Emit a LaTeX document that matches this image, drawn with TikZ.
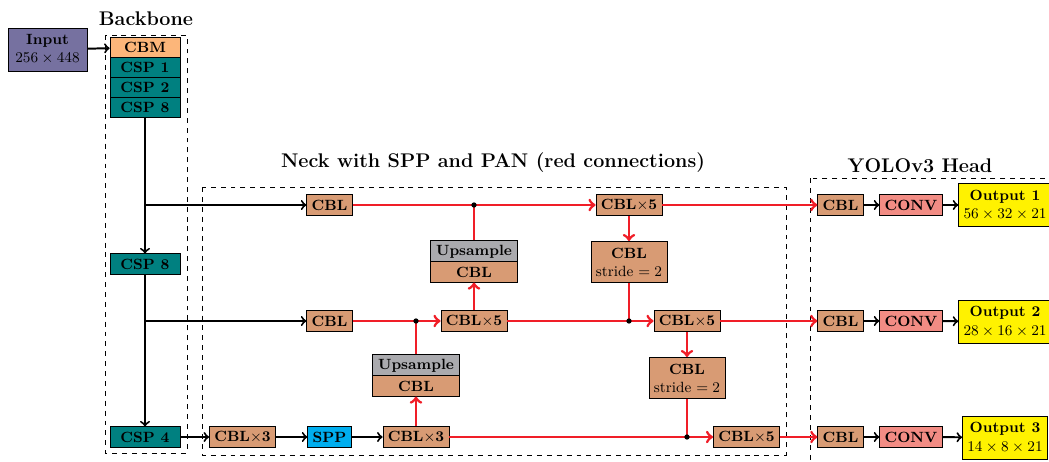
\documentclass[tikz,border=0pt]{standalone}
\usepackage{amsmath}

\definecolor{inputcol}{RGB}{118,113,160}
\definecolor{cbmcol}{RGB}{252,182,122}
\definecolor{cspcol}{RGB}{0,128,128}
\definecolor{cblcol}{RGB}{216,155,116}
\definecolor{upcol}{RGB}{170,170,174}
\definecolor{sppcol}{RGB}{0,174,239}
\definecolor{convcol}{RGB}{242,140,132}
\definecolor{outcol}{RGB}{255,242,0}
\definecolor{pancol}{RGB}{240,30,40}

\tikzset{
  box/.style={draw, minimum height=12pt, inner sep=3pt, font=\small\bfseries},
  cspbox/.style={box, fill=cspcol, minimum width=42.5pt},
  cblbox/.style={box, fill=cblcol},
  upbox/.style={box, minimum width=53pt},
  twoline/.style={box, align=center, minimum height=26pt},
  blk/.style={->, line width=1.2pt},
  redline/.style={line width=1.7pt, pancol},
  redarr/.style={->, line width=1.7pt, pancol},
  title/.style={font=\large\bfseries}
}

\begin{document}
\begin{tikzpicture}[x=0.607pt, y=-0.607pt]

  % Fix the page to the size of the picture
  \useasboundingbox (0,0) rectangle (1049,461);
  \clip (0,0) rectangle (1049,461);

  % Draw the dashed frames and their titles
  \draw[dashed] (105,35) rectangle (187,453);
  \draw[dashed] (202,187) rectangle (786,455);
  \draw[dashed] (810,178) rectangle (1080,490);
  \node[title] (tbb) at (146,19) {Backbone};
  \node[title] (tneck) at (493,163) {Neck with SPP and PAN (red connections)};
  \node[title] (thead) at (920,166) {YOLOv3 Head};

  % Input and backbone
  \node[twoline, fill=inputcol, minimum width=48pt] (input) at (47.5,49.5) {Input\\ \mdseries $256\times448$};
  \node[cspbox, fill=cbmcol] (cbm) at (145,47.5) {CBM};
  \node[cspbox] (csp1) at (145,67.5) {CSP 1};
  \node[cspbox] (csp2) at (145,87.5) {CSP 2};
  \node[cspbox] (csp8a) at (145,107.5) {CSP 8};
  \node[cspbox] (csp8b) at (145,264) {CSP 8};
  \node[cspbox] (csp4) at (145,437) {CSP 4};

  % Neck nodes
  \node[cblbox] (cbl1) at (329.5,205) {CBL};
  \node[cblbox] (cbl2) at (329.5,321) {CBL};
  \node[cblbox] (cblx3a) at (242.5,437) {CBL$\times$3};
  \node[box, fill=sppcol] (spp) at (329.5,437) {SPP};
  \node[cblbox] (cblx3b) at (416,437) {CBL$\times$3};
  \node[upbox, fill=upcol] (up2) at (416,366) {Upsample};
  \node[upbox, fill=cblcol] (upcbl2) at (416,386) {CBL};
  \node[cblbox] (cblx5a) at (474,321) {CBL$\times$5};
  \node[upbox, fill=upcol] (up1) at (474,252) {Upsample};
  \node[upbox, fill=cblcol] (upcbl1) at (474,272) {CBL};
  \node[cblbox] (cblx5b) at (629,205) {CBL$\times$5};
  \node[cblbox, align=center, minimum height=25pt] (stride1) at (629,262) {CBL\\ \mdseries stride $=2$};
  \node[cblbox] (cblx5c) at (687,321) {CBL$\times$5};
  \node[cblbox, align=center, minimum height=25pt] (stride2) at (687,378) {CBL\\ \mdseries stride $=2$};
  \node[cblbox] (cblx5d) at (746.5,437) {CBL$\times$5};

  % Head nodes
  \node[cblbox] (hcbl1) at (840.5,205) {CBL};
  \node[cblbox] (hcbl2) at (840.5,321) {CBL};
  \node[cblbox] (hcbl3) at (840.5,437) {CBL};
  \node[box, fill=convcol] (conv1) at (911,205) {CONV};
  \node[box, fill=convcol] (conv2) at (911,321) {CONV};
  \node[box, fill=convcol] (conv3) at (911,437) {CONV};
  \node[twoline, fill=outcol] (out1) at (1005,205) {Output 1\\ \mdseries $56\times32\times21$};
  \node[twoline, fill=outcol] (out2) at (1005,321.5) {Output 2\\ \mdseries $28\times16\times21$};
  \node[twoline, fill=outcol] (out3) at (1005,437.5) {Output 3\\ \mdseries $14\times8\times21$};

  % Black connections
  \draw[blk] (input) -- (cbm);
  \draw[blk] (csp8a) -- (csp8b);
  \draw[blk] (csp8b) -- (csp4);
  \draw[blk] (csp8a |- cbl1) -- (cbl1);
  \draw[blk] (csp8b |- cbl2) -- (cbl2);
  \draw[blk] (csp4) -- (cblx3a);
  \draw[blk] (cblx3a) -- (spp);
  \draw[blk] (spp) -- (cblx3b);
  \draw[blk] (hcbl1) -- (conv1);
  \draw[blk] (hcbl2) -- (conv2);
  \draw[blk] (hcbl3) -- (conv3);
  \draw[blk] (conv1) -- (out1);
  \draw[blk] (conv2) -- (out2);
  \draw[blk] (conv3) -- (out3);

  % Junctions of the PAN
  \coordinate (j1) at (up1 |- cbl1);
  \coordinate (j2) at (up2 |- cbl2);
  \coordinate (j3) at (stride1 |- cblx5c);
  \coordinate (j4) at (stride2 |- cblx3b);

  % Red connections
  \draw[redarr] (cbl1) -- (cblx5b);
  \draw[redline] (up1) -- (j1);
  \draw[redarr] (cblx5a) -- (upcbl1);
  \draw[redarr] (cbl2) -- (cblx5a);
  \draw[redline] (up2) -- (j2);
  \draw[redarr] (cblx3b) -- (upcbl2);
  \draw[redarr] (cblx5b) -- (stride1);
  \draw[redline] (stride1) -- (j3);
  \draw[redarr] (cblx5a) -- (cblx5c);
  \draw[redarr] (cblx5c) -- (stride2);
  \draw[redline] (stride2) -- (j4);
  \draw[redarr] (cblx3b) -- (cblx5d);
  \draw[redarr] (cblx5b) -- (hcbl1);
  \draw[redarr] (cblx5c) -- (hcbl2);
  \draw[redarr] (cblx5d) -- (hcbl3);

  % Dots where lines meet
  \fill (j1) circle (1.6pt);
  \fill (j2) circle (1.6pt);
  \fill (j3) circle (1.6pt);
  \fill (j4) circle (1.6pt);

\end{tikzpicture}
\end{document}
